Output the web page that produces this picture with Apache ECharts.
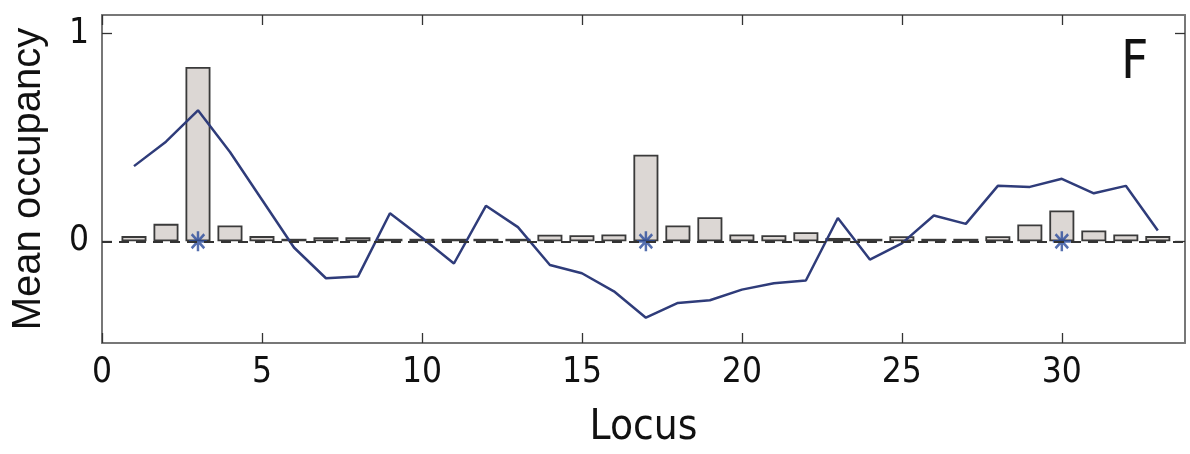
<!DOCTYPE html>
<html>
<head>
<meta charset="utf-8">
<script src="https://cdn.jsdelivr.net/npm/echarts@6/dist/echarts.min.js"></script>
<style>
html,body{margin:0;padding:0;background:#fff;}
#chart{width:1190px;height:454px;}
</style>
</head>
<body>
<div id="chart"></div>
<script>
// ---- data ----
const loci = [1,2,3,4,5,6,7,8,9,10,11,12,13,14,15,16,17,18,19,20,21,22,23,24,25,26,27,28,29,30,31,32,33];
const barValues = [0.025,0.084,0.84,0.076,0.025,0.012,0.02,0.02,0.012,0.012,0.012,0.012,0.012,0.032,0.029,0.033,0.417,0.076,0.116,0.033,0.029,0.044,0.016,0.012,0.024,0.012,0.012,0.024,0.081,0.148,0.052,0.033,0.025];
const lineValues = [0.362,0.48,0.631,0.43,0.2,-0.03,-0.178,-0.17,0.135,0.017,-0.107,0.171,0.068,-0.114,-0.154,-0.241,-0.368,-0.297,-0.284,-0.233,-0.202,-0.189,0.112,-0.088,-0.01,0.124,0.084,0.267,0.262,0.301,0.231,0.267,0.052];
const starLoci = [3,17,30];
const starValues = [0,0,0];
const xTicks = [0,5,10,15,20,25,30];
const yTicks = [0,1];
const xName = 'Locus';
const yName = 'Mean occupancy';
const panelLabel = 'F';

const narrow = "'Liberation Sans Narrow','DejaVu Sans Condensed','Liberation Sans',Arial,sans-serif";
const regular = "'Liberation Sans',Arial,sans-serif";
const axisCol = '#777';

const chart = echarts.init(document.getElementById('chart'), null, {renderer:'canvas'});
const X_MIN = 0, X_MAX = 33.85, Y_MIN = -0.49, Y_MAX = 1.09;

const mkX = (pos, main) => ({
  type:'value', position:pos, min:X_MIN, max:X_MAX,
  name: main ? xName : '', nameLocation:'middle', nameGap:64,
  nameTextStyle:{fontSize:42, fontFamily:narrow, color:'#111'},
  axisLine:{show:true, onZero:false, lineStyle:{color:axisCol, width:2}},
  axisTick:{show:true, inside:true, length:10, customValues:xTicks, lineStyle:{color:'#333', width:1.3}},
  axisLabel:{show:main, customValues:xTicks, fontSize:35, fontFamily:narrow, color:'#111', margin:12},
  splitLine:{show:false}
});
const mkY = (pos, main) => ({
  type:'value', position:pos, min:Y_MIN, max:Y_MAX,
  name: main ? yName : '', nameLocation:'middle', nameGap:53, nameRotate:90,
  nameTextStyle:{fontSize:40, fontFamily:regular, color:'#111'},
  axisLine:{show:true, onZero:false, lineStyle:{color:axisCol, width:2}},
  axisTick:{show:true, inside:true, length:10, customValues:yTicks, lineStyle:{color:'#333', width:1.3}},
  axisLabel:{show:main, customValues:yTicks, fontSize:35, fontFamily:narrow, color:'#111', margin:13},
  splitLine:{show:false}
});

const option = {
  animation:false,
  backgroundColor:'#fff',
  grid:{left:102, right:5, top:15, bottom:106, containLabel:false},
  xAxis:[mkX('bottom', true), mkX('top', false)],
  yAxis:[mkY('left', true), mkY('right', false)],
  graphic:[{
    type:'text', left:1121, top:38,
    style:{text:panelLabel, fontSize:53, fontFamily:narrow, fill:'#111'}
  }],
  series:[
    {
      type:'line', name:'zero', data:[], z:1, silent:true,
      markLine:{symbol:'none', silent:true, label:{show:false},
        lineStyle:{color:'#333', width:2.2, type:[10,7]},
        data:[{yAxis:0}]}
    },
    {
      type:'bar', name:'occupancy', z:2,
      data: loci.map((l,i)=>[l, barValues[i]]),
      barWidth:25,
      itemStyle:{color:'#dcd7d4', borderColor:'#3a3a3a', borderWidth:1.8}
    },
    {
      type:'line', name:'profile', z:3,
      data: loci.map((l,i)=>[l, lineValues[i]]),
      showSymbol:false, symbol:'none',
      lineStyle:{color:'#2f3c7a', width:2.5}
    },
    {
      type:'scatter', name:'stars', z:4,
      data: starLoci.map((l,i)=>[l, starValues[i]]),
      symbol:'path://M10,0L10,20M0,10L20,10M3,3L17,17M17,3L3,17',
      symbolSize:[18,20],
      itemStyle:{color:'#2a4b9b', borderColor:'#2a4b9b', borderWidth:2.6}
    }
  ]
};
chart.setOption(option);
</script>
</body>
</html>
